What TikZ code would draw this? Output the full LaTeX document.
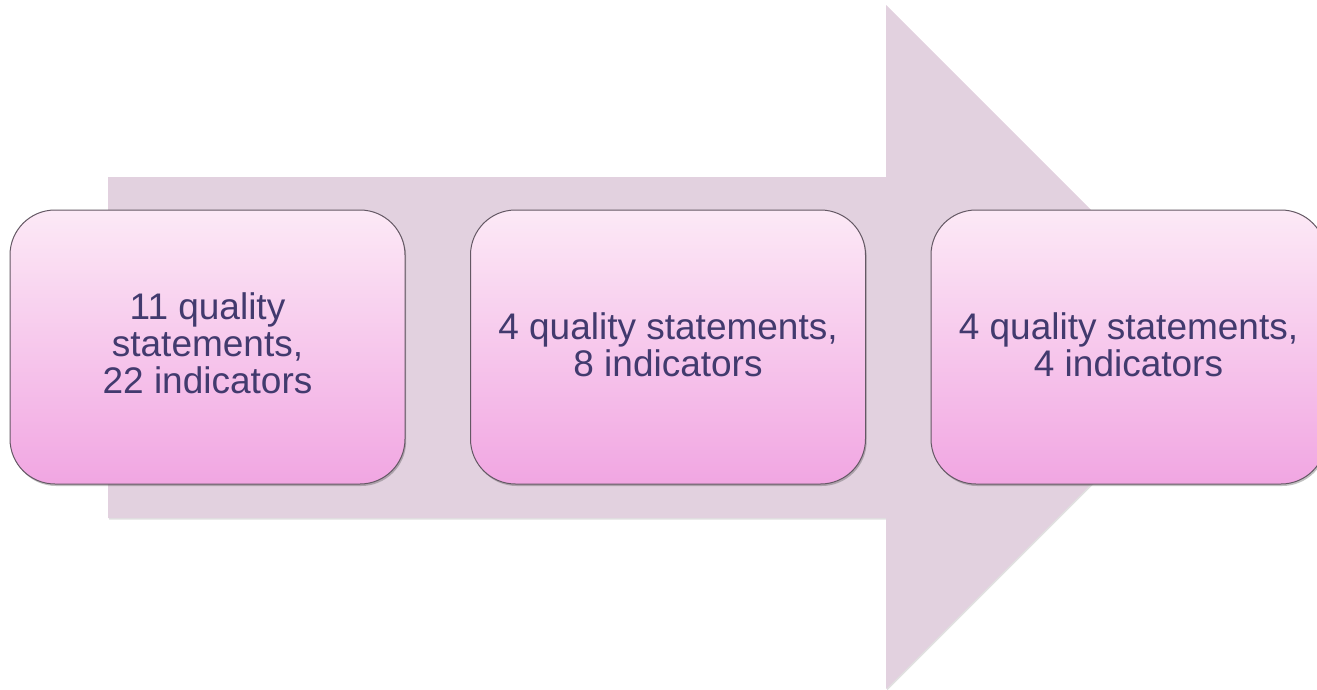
\documentclass[tikz,border=0pt]{standalone}
\usepackage{fontspec}
\setmainfont{Liberation Sans}
\usetikzlibrary{shadows,calc}

\definecolor{arrowfill}{RGB}{226,209,223}
\definecolor{boxtop}{RGB}{252,233,246}
\definecolor{boxbottom}{RGB}{241,166,226}
\definecolor{boxline}{RGB}{100,88,100}
\definecolor{textcol}{RGB}{66,58,110}

\tikzset{
  stagebox/.style={
    rectangle, rounded corners=45pt,
    minimum width=395pt, minimum height=274pt,
    draw=boxline, line width=1pt,
    top color=boxtop, bottom color=boxbottom,
    drop shadow={shadow xshift=1.2pt, shadow yshift=-2pt, opacity=0.35, fill=black!70}
  },
  stagetext/.style={
    align=center, text=textcol, inner sep=0pt,
    font=\fontsize{37}{37}\selectfont
  },
  bigarrow/.style={
    fill=arrowfill,
    drop shadow={shadow xshift=1pt, shadow yshift=-1.5pt, opacity=0.2, fill=black!60}
  }
}

\begin{document}
\begin{tikzpicture}[x=1pt,y=-1pt]
  \useasboundingbox (0,0) rectangle (1317,689);

  % broad arrow behind the three stages
  \path[bigarrow] (108,177) -- (886,177) -- (886,5) -- (1228,347)
        -- (886,689) -- (886,518) -- (108,518) -- cycle;

  % stages
  \node[stagebox] (b1) at (207.5,347) {};
  \node[stagebox] (b2) at (668,347) {};
  \node[stagebox] (b3) at (1128.5,347) {};

  % labels, set a little above the middle of each stage
  \node[stagetext] (t1) at ($(b1.center)+(0,-4)$) {11 quality\\statements,\\22 indicators};
  \node[stagetext] (t2) at ($(b2.center)+(0,-2)$) {4 quality statements,\\8 indicators};
  \node[stagetext] (t3) at ($(b3.center)+(0,-2)$) {4 quality statements,\\4 indicators};
\end{tikzpicture}
\end{document}
